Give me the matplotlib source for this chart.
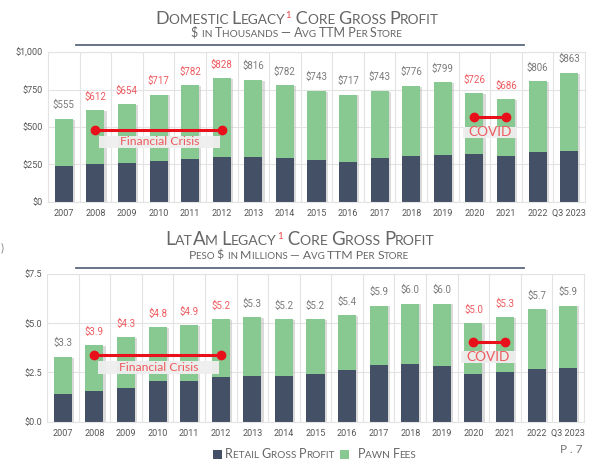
import matplotlib
matplotlib.use('Agg')
import matplotlib.pyplot as plt
from matplotlib.patches import Rectangle

# ---------------- data ----------------
years = ['2007', '2008', '2009', '2010', '2011', '2012', '2013', '2014', '2015',
         '2016', '2017', '2018', '2019', '2020', '2021', '2022', 'Q3 2023']
dom_retail = [241, 254, 259, 272, 288, 301, 301, 292, 277, 268, 290, 308, 315, 317, 306, 333, 341]
dom_total = [555, 612, 654, 717, 782, 828, 816, 782, 743, 717, 743, 776, 799, 726, 686, 806, 863]
latam_retail = [1.42, 1.54, 1.73, 2.08, 2.05, 2.25, 2.34, 2.30, 2.44, 2.64, 2.88, 2.93, 2.84, 2.42, 2.54, 2.67, 2.72]
latam_total = [3.3, 3.9, 4.3, 4.8, 4.9, 5.2, 5.3, 5.2, 5.2, 5.4, 5.9, 6.0, 6.0, 5.0, 5.3, 5.7, 5.9]
crisis_span = ['2008', '2012']
covid_span = ['2020', '2021']
dom_crisis_level, dom_covid_level = 480, 565
latam_crisis_level, latam_covid_level = 3.4, 4.05
dom_yticks = [0, 250, 500, 750, 1000]
dom_ytick_labels = ['$0', '$250', '$500', '$750', '$1,000']
latam_yticks = [0, 2.5, 5.0, 7.5]
latam_ytick_labels = ['$0.0', '$2.5', '$5.0', '$7.5']

# ---------------- style ----------------
NAVY = '#435066'
GREEN = '#88c991'
RED = '#e8101a'
RED_TXT = '#ee5a5f'
GRAY_TXT = '#7a7a7a'
GRID = '#e3e3e3'
TITLE_FONT = 'Lato'
TITLE_WEIGHT = 'normal'
TICK_FONT = 'Roboto'

W, H = 591, 461
fig = plt.figure(figsize=(W / 100, H / 100), dpi=100)
renderer = fig.canvas.get_renderer()


def fx(px):
    return px / W


def fy(py):
    return 1 - py / H


def text_width(s, size, family, weight='normal'):
    t = fig.text(0, 0, '|' + s + '|', fontsize=size, family=family, weight=weight)
    w1 = t.get_window_extent(renderer).width
    t.remove()
    t = fig.text(0, 0, '||', fontsize=size, family=family, weight=weight)
    w2 = t.get_window_extent(renderer).width
    t.remove()
    return w1 - w2


def smallcaps_runs(s):
    runs = []
    for ch in s:
        if ch.islower():
            kind, c = 's', ch.upper()
        elif ch == ' ':
            kind, c = (runs[-1][1] if runs else 'b'), ch
        else:
            kind, c = 'b', ch
        if runs and runs[-1][1] == kind:
            runs[-1][0] += c
        else:
            runs.append([c, kind])
    return runs


def draw_smallcaps(segments, xc, yb, big, small, color, family=TITLE_FONT, weight=TITLE_WEIGHT):
    pieces = []
    for seg, style in segments:
        if style == 'sup':
            pieces.append((seg, small * 0.7, '#e8474c', small * 0.6))
        else:
            for txt, kind in smallcaps_runs(seg):
                pieces.append((txt, big if kind == 'b' else small, color, 0))
    widths = [text_width(p[0], p[1], family, weight) for p in pieces]
    x = xc - sum(widths) / 2
    for (txt, size, col, dy), w in zip(pieces, widths):
        fig.text(fx(x), fy(yb - dy), txt, fontsize=size, color=col, family=family,
                 weight=weight, ha='left', va='baseline')
        x += w


def draw_panel(ax, retail, total, yticks, yticklabels, fmt, crisis_level, covid_level,
               crisis_box, covid_box, label_size):
    x = list(range(len(years)))
    pawn = [t - r for t, r in zip(total, retail)]
    ymax = yticks[-1]
    sh = ymax * 0.006
    ax.bar([i + 0.07 for i in x], total, width=0.57, color='#b0b0b0', alpha=0.45, zorder=1,
           bottom=[-sh] * len(x))
    ax.bar(x, retail, width=0.57, color=NAVY, zorder=2)
    ax.bar(x, pawn, width=0.57, bottom=retail, color=GREEN, zorder=2)
    hl = set(years[years.index(crisis_span[0]):years.index(crisis_span[1]) + 1]) | \
        set(years[years.index(covid_span[0]):years.index(covid_span[1]) + 1])
    for i, (y, t) in enumerate(zip(years, total)):
        ax.annotate(fmt(t), (i, t), xytext=(0, 6), textcoords='offset points',
                    ha='center', va='bottom', fontsize=label_size, family=TICK_FONT,
                    color=RED_TXT if y in hl else GRAY_TXT)
    ax.set_xlim(-0.5, len(years) - 0.5)
    ax.set_ylim(0, ymax)
    ax.set_yticks(yticks)
    ax.set_yticklabels(yticklabels)
    ax.set_xticks(x)
    ax.set_xticklabels(years)
    ax.set_xticks([i + 0.5 for i in x[:-1]], minor=True)
    ax.tick_params(axis='both', which='both', length=0, labelsize=6.5, labelcolor='#555555')
    ax.tick_params(axis='x', pad=5)
    for lab in ax.get_xticklabels() + ax.get_yticklabels():
        lab.set_family(TICK_FONT)
    ax.grid(axis='y', which='major', color=GRID, lw=0.8, zorder=0)
    ax.grid(axis='x', which='minor', color=GRID, lw=0.8, zorder=0)
    ax.set_axisbelow(True)
    for s in ax.spines.values():
        s.set_color(GRID)
        s.set_linewidth(0.8)
    # annotations
    for span, level, box, label, fs in [(crisis_span, crisis_level, crisis_box, 'Financial Crisis', 8.8),
                                        (covid_span, covid_level, covid_box, 'COVID', 9.8)]:
        a, b = years.index(span[0]), years.index(span[1])
        x0, x1, yc, hh = box
        ax.add_patch(Rectangle((x0, yc - hh / 2), x1 - x0, hh, facecolor='#efefef',
                               edgecolor='none', alpha=0.95, zorder=3))
        ax.text((x0 + x1) / 2, yc, label, ha='center', va='center', color=RED_TXT,
                fontsize=fs, family=TITLE_FONT, weight=TITLE_WEIGHT, zorder=4)
        ax.plot([a, b], [level, level], color=RED, lw=2.2, marker='o', ms=6, zorder=5)


ax1 = fig.add_axes([fx(48), fy(201.7), fx(537), (201.7 - 52.3) / H])
draw_panel(ax1, dom_retail, dom_total, dom_yticks, dom_ytick_labels,
           lambda v: f'${v:,.0f}', dom_crisis_level, dom_covid_level,
           (1.1, 4.95, 400, 78), (12.65, 14.35, 465, 73), 7)

ax2 = fig.add_axes([fx(47), fy(421.7), fx(537), (421.7 - 274) / H])
draw_panel(ax2, latam_retail, latam_total, latam_yticks, latam_ytick_labels,
           lambda v: f'${v:.1f}', latam_crisis_level, latam_covid_level,
           (1.1, 4.95, 2.76, 0.68), (12.6, 14.35, 3.29, 0.64), 7)

# titles
TCOL = '#666666'
draw_smallcaps([('Domestic Legacy', 'sc'), ('1', 'sup'), (' Core Gross Profit', 'sc')],
               297, 23.5, 13.0, 9.8, TCOL)
draw_smallcaps([('$ in Thousands \u2014 Avg TTM Per Store', 'sc')], 297, 37, 9.0, 7.2, TCOL)
fig.add_artist(plt.Line2D([fx(76), fx(524)], [fy(45.3), fy(45.3)], color='#5b6880', lw=1.3))

draw_smallcaps([('LatAm Legacy', 'sc'), ('1', 'sup'), (' Core Gross Profit', 'sc')],
               300, 245, 13.4, 10.1, TCOL)
draw_smallcaps([('Peso $ in Millions \u2014 Avg TTM Per Store', 'sc')], 299, 258.5, 8.8, 7.0, TCOL)
fig.add_artist(plt.Line2D([fx(76), fx(524)], [fy(267.7), fy(267.7)], color='#5b6880', lw=1.3))

# legend
fig.add_artist(Rectangle((fx(213), fy(458.5)), fx(8.5), 8.5 / H, facecolor=NAVY, edgecolor='none'))
fig.add_artist(Rectangle((fx(340), fy(458.5)), fx(8.5), 8.5 / H, facecolor=GREEN, edgecolor='none'))
draw_smallcaps([('Retail Gross Profit', 'sc')], 280, 458.3, 9, 7.2, TCOL)
draw_smallcaps([('Pawn Fees', 'sc')], 387, 458.3, 9, 7.2, TCOL)
fig.text(fx(583), fy(453), 'P . 7', ha='right', va='baseline', fontsize=8.5,
         color='#777777', family=TITLE_FONT, weight=TITLE_WEIGHT)
fig.text(fx(0.5), fy(251), ')', ha='left', va='baseline', fontsize=8,
         color='#888888', family=TITLE_FONT)

fig.savefig('out.png', dpi=100, facecolor='white')
